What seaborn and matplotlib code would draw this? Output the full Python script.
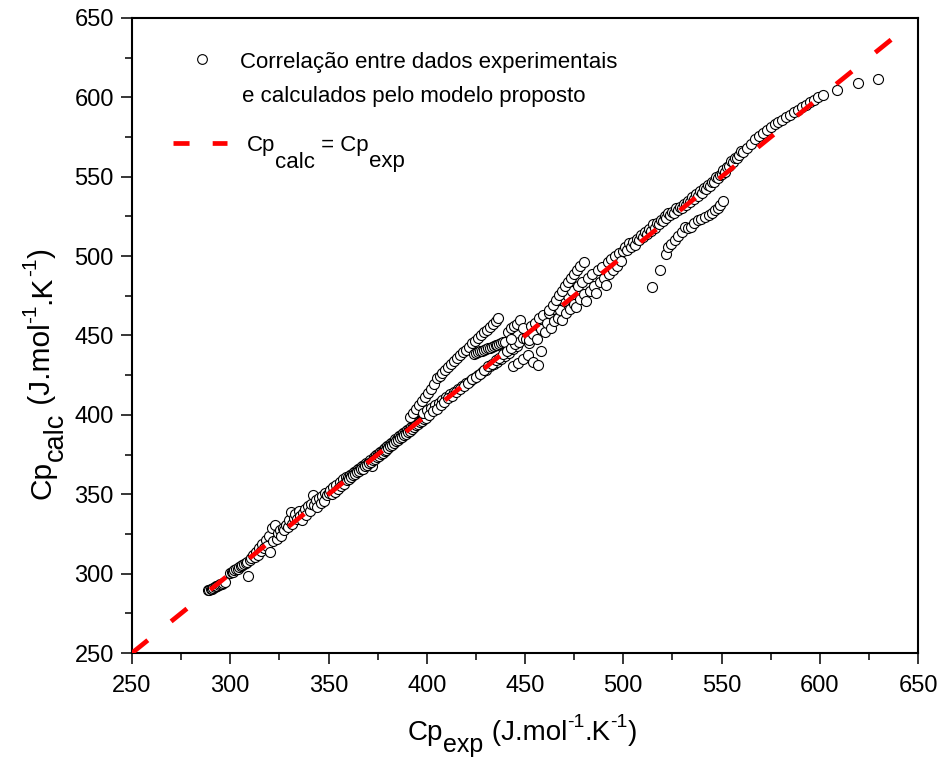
import numpy as np
import pandas as pd
import matplotlib
matplotlib.use("Agg")
import matplotlib.pyplot as plt
import seaborn as sns
from matplotlib.ticker import MultipleLocator
from matplotlib.transforms import IdentityTransform
from matplotlib.lines import Line2D

# ---------------- data ----------------
A_x = [288.6, 289.3, 290.0, 290.7, 291.4, 292.1, 292.8, 293.5, 294.2, 294.9, 295.6, 296.4, 297.2]
A_y = [289.4, 289.8, 290.2, 290.6, 291.0, 291.4, 291.9, 292.3, 292.8, 293.2, 293.7, 294.2, 294.8]

B_x = [300.0, 300.7, 301.4, 302.1, 302.9, 303.7, 304.5, 305.3, 306.1, 307.0, 307.9, 308.7, 309.2, 310.0,
       310.8, 311.6, 312.4, 313.2, 314.0, 314.8, 315.6, 316.4, 317.2, 318.0, 318.8, 319.6, 320.4, 321.2,
       322.0, 322.8, 323.6, 324.4, 325.2, 326.0, 326.8, 327.6, 328.4, 329.2]
B_y = [300.2, 300.8, 301.3, 302.0, 302.6, 303.2, 303.9, 304.6, 305.3, 306.0, 306.8, 307.4, 298.2, 308.5,
       309.8, 311.5, 310.2, 313.6, 312.0, 316.0, 314.2, 318.6, 316.0, 321.2, 317.5, 323.5, 313.5, 328.6,
       320.5, 330.4, 321.8, 325.5, 327.2, 323.8, 329.0, 327.5, 330.8, 329.5]

C_x = [330.0, 330.8, 331.6, 332.4, 333.2, 334.0, 334.8, 335.6, 336.4, 337.2, 338.0, 338.8, 339.6, 340.4,
       341.2, 342.0, 342.8, 343.6, 344.4, 345.2, 346.0, 346.8, 347.6, 348.4, 349.2, 350.0, 350.8, 351.6,
       352.4, 353.2, 354.0, 354.8, 355.6, 356.4, 357.2, 358.0, 358.8, 359.6]
C_y = [333.5, 338.8, 331.5, 335.0, 337.8, 334.2, 339.5, 336.0, 333.8, 338.5, 341.0, 337.0, 342.5, 339.5,
       344.0, 349.5, 343.0, 346.5, 341.8, 347.5, 344.5, 349.0, 346.0, 351.0, 349.5, 350.5, 352.5, 350.0,
       354.5, 351.5, 356.0, 353.5, 358.0, 355.0, 359.5, 356.5, 361.0, 359.0]

D_x = [360, 361, 362, 363, 364, 365, 366, 367, 368, 369, 370, 371, 372, 373, 374, 375, 376, 377, 378, 379,
       380, 381, 382, 383, 384, 385, 386, 387, 388, 389, 390, 391, 392, 393, 394, 395, 396, 397, 398, 399, 400]
D_y = [361.0, 362.2, 362.6, 364.0, 364.6, 365.8, 366.4, 367.9, 368.3, 369.6, 370.0, 371.6, 367.5, 373.2,
       374.5, 375.2, 376.6, 377.0, 378.4, 379.0, 380.3, 381.0, 382.4, 383.0, 384.5, 385.0, 386.4, 387.2,
       388.5, 389.0, 390.6, 391.2, 392.5, 393.0, 394.6, 395.2, 396.4, 397.0, 398.6, 399.0, 400.4]

D2_x = [360.5, 361.5, 362.5, 363.5, 364.5, 365.5, 366.5, 367.5, 368.5, 369.5, 370.5, 371.5, 372.5, 373.5,
        374.5, 375.5, 376.5, 377.5, 378.5, 379.5, 380.5, 381.5, 382.5, 383.5, 384.5, 385.5, 386.5, 387.5,
        388.5, 389.5, 390.5, 391.5, 392.5, 393.5, 394.5, 395.5, 396.5, 397.5, 398.5, 399.5]
D2_y = [359.8, 360.6, 361.9, 362.5, 363.8, 364.4, 365.7, 366.2, 367.5, 368.3, 369.4, 370.2, 371.5, 372.0,
        373.4, 374.2, 375.5, 376.1, 377.4, 378.0, 379.3, 380.2, 381.3, 382.0, 383.4, 384.1, 385.3, 386.0,
        387.3, 388.1, 389.4, 390.0, 391.2, 392.1, 393.4, 394.0, 395.2, 396.1, 397.3, 398.0]

E_x = [391.5, 393.0, 394.5, 396.0, 397.5, 399.0, 400.5, 402.0, 403.5, 405.0, 406.5, 408.0, 409.5, 411.0,
       412.5, 414.0, 415.5, 417.0, 418.5, 420.0, 421.5, 423.0, 424.5, 426.0, 427.5, 429.0, 430.5, 432.0,
       433.5, 435.0, 436.3]
E_y = [398.5, 401.0, 403.5, 406.0, 408.5, 411.0, 413.5, 416.5, 419.5, 423.0, 424.5, 426.5, 428.5, 430.0,
       432.0, 434.0, 436.0, 437.5, 439.5, 441.0, 443.0, 445.0, 446.5, 448.5, 450.0, 452.0, 453.5, 455.5,
       457.0, 459.0, 461.0]

F_x = [398.0, 400.0, 402.0, 404.0, 406.0, 408.0, 410.0, 412.0, 414.0, 416.0, 418.0, 420.0, 422.0, 424.0,
       426.0, 428.0, 430.0, 432.0, 434.0, 436.0, 438.0, 440.0, 442.0, 444.0, 446.0]
F_y = [401.0, 403.0, 404.5, 406.5, 407.5, 409.5, 411.0, 413.0, 414.5, 416.0, 418.0, 420.0, 421.5, 423.5,
       425.0, 427.0, 428.5, 430.5, 432.0, 433.5, 435.5, 437.0, 439.0, 441.5, 443.5]

G_x = [424.0, 425.0, 426.0, 427.0, 428.0, 429.0, 430.0, 431.0, 432.0, 433.0, 434.0, 435.0, 436.0, 437.0,
       438.0, 439.0, 440.0]
G_y = [438.6, 439.1, 439.6, 440.0, 440.5, 441.0, 441.4, 441.9, 442.4, 442.8, 443.3, 443.8, 444.2, 444.7,
       445.2, 445.6, 446.1]

H_x = [401.0, 403.0, 405.0, 407.0, 409.0, 411.0, 413.0, 415.0, 417.0, 419.0, 421.0, 423.0, 425.0, 427.0,
       429.0, 431.0, 433.0, 435.0, 437.0, 439.0, 441.0, 443.0, 445.0, 447.0, 449.0, 451.0]
H_y = [400.0, 402.5, 404.0, 406.5, 408.0, 410.5, 412.0, 414.5, 416.0, 418.5, 420.0, 422.5, 424.0, 426.0,
       428.0, 430.5, 432.0, 434.5, 436.0, 438.5, 440.0, 442.0, 444.5, 446.0, 448.5, 450.0]

I_x = [441.5, 443.0, 444.5, 446.0, 447.5, 449.0, 450.5, 452.0, 444.0, 446.5, 449.0, 451.5, 454.0, 456.5,
       458.0, 443.0]
I_y = [452.0, 454.5, 456.0, 457.5, 459.5, 455.0, 448.0, 445.0, 430.5, 432.5, 435.0, 437.5, 433.5, 431.5,
       440.0, 447.5]

J_x = [452, 453, 454, 455, 456, 457, 458, 459, 460, 461, 462, 463, 464, 465, 466, 467, 468, 469, 470, 471,
       472, 473, 474, 475, 476, 477, 478, 479, 480, 481, 482, 483, 484, 485, 486, 487, 488, 489, 490, 491,
       492, 493, 494, 495, 496, 497, 498, 499]
J_y = [447, 456, 451, 458, 448, 461, 454, 463, 452, 458, 464, 455, 467, 459, 470, 461, 466, 460, 472, 464,
       475, 467, 478, 470, 468, 481, 473, 484, 476, 472, 486, 478, 489, 481, 477, 491, 484, 493, 486, 482,
       496, 489, 498, 491, 500, 494, 502, 497]

K_x = [462.0, 464.0, 466.0, 467.5, 469.0, 470.5, 472.0, 473.5, 475.0, 476.5, 478.0, 480.0]
K_y = [466.0, 469.5, 472.5, 475.5, 478.0, 481.0, 483.5, 486.0, 488.5, 491.0, 493.5, 496.5]

L_x = [500, 501, 502, 503, 504, 505, 506, 507, 508, 509, 510, 511, 512, 513, 514, 515, 516, 517, 518, 519,
       520, 521, 522, 523, 524, 525, 526, 527, 528, 529, 530, 531, 532, 533, 534, 535, 536, 537, 538, 539,
       540, 541, 542, 543, 544, 545, 546, 547, 548, 549, 550, 551, 552, 553, 554, 555, 556, 557, 558, 559, 560]
L_y = [503, 506, 504, 508, 506, 509, 507, 511, 510, 513, 512, 515, 514, 517, 516, 520, 518, 521, 520, 523,
       522, 525, 524, 527, 526, 528, 527, 530, 529, 531, 530, 533, 532, 535, 534, 537, 536, 539, 538, 541,
       540, 543, 542, 545, 544, 547, 547, 550, 549, 551, 552, 554, 553, 556, 557, 560, 559, 562, 562, 564, 566]

M_x = [561.0, 563.0, 565.0, 567.0, 569.0, 571.0, 573.0, 575.0, 577.0, 579.0, 581.0, 583.0, 585.0, 587.0,
       589.0, 591.0, 593.0, 595.0, 597.0, 599.0, 601.7]
M_y = [565.5, 568.0, 570.5, 573.5, 575.5, 577.5, 579.5, 581.5, 583.5, 584.5, 585.5, 587.5, 589.0, 590.5,
       592.0, 594.0, 595.5, 597.0, 598.5, 600.0, 601.5]

N_x = [608.8, 619.5, 629.6]
N_y = [604.5, 609.3, 611.6]

O_x = [514.6, 518.7, 522.0, 523.0, 524.5, 526.3, 528.0, 529.8, 531.4, 533.0, 534.6, 536.2, 537.8, 539.6,
       541.6, 543.4, 545.0, 546.6, 548.0, 549.4, 550.8]
O_y = [480.5, 491.3, 501.5, 505.5, 507.5, 510.0, 512.5, 515.5, 518.5, 517.5, 518.5, 521.0, 522.8, 523.5,
       524.6, 526.0, 527.2, 528.8, 530.5, 532.5, 534.5]

line_x = [250, 638]
line_y = [250, 638]

x_ticks = [250, 300, 350, 400, 450, 500, 550, 600, 650]
y_ticks = [250, 300, 350, 400, 450, 500, 550, 600, 650]

legend_text_1 = "Correlação entre dados experimentais"
legend_text_2 = "e calculados pelo modelo proposto"

# ---------------- figure ----------------
sns.set_theme(style="ticks")
plt.rcParams["font.family"] = ["Liberation Sans", "DejaVu Sans"]

series_x = [A_x, B_x, C_x, D_x, D2_x, E_x, F_x, G_x, H_x, I_x, J_x, K_x, L_x, M_x, N_x, O_x]
series_y = [A_y, B_y, C_y, D_y, D2_y, E_y, F_y, G_y, H_y, I_y, J_y, K_y, L_y, M_y, N_y, O_y]
df = pd.DataFrame({
    "exp": np.concatenate([np.asarray(s, float) for s in series_x]),
    "calc": np.concatenate([np.asarray(s, float) for s in series_y]),
})

W, H = 938, 758
fig = plt.figure(figsize=(W / 100, H / 100), dpi=100)
ax = fig.add_axes([132 / W, 1 - 653 / H, (918 - 132) / W, (653 - 18) / H])

sns.scatterplot(data=df, x="exp", y="calc", marker="o", s=52, color="white",
                edgecolor="black", linewidth=0.8, ax=ax, legend=False, zorder=2)
sns.lineplot(x=line_x, y=line_y, color="red", ax=ax, zorder=3)
ln = ax.lines[-1]
ln.set_linewidth(3.4)
ln.set_linestyle((0, (4.3, 6.35)))
ln.set_solid_capstyle("butt")

ax.set_xlim(250, 650)
ax.set_ylim(250, 650)
ax.set_xticks(x_ticks)
ax.set_yticks(y_ticks)
ax.xaxis.set_minor_locator(MultipleLocator(25))
ax.yaxis.set_minor_locator(MultipleLocator(25))
ax.set_xlabel("")
ax.set_ylabel("")
ax.tick_params(which="major", direction="out", length=8, width=1.1, colors="black", labelsize=17)
ax.tick_params(which="minor", direction="out", length=5, width=1.1, colors="black")
ax.tick_params(axis="x", which="major", pad=8)
ax.tick_params(axis="y", which="major", pad=5)
for sp in ax.spines.values():
    sp.set_linewidth(1.5)
    sp.set_color("black")

# ---------------- rich text helper ----------------
renderer = fig.canvas.get_renderer()
IT = IdentityTransform()


def text_width(s, size):
    t1 = fig.text(0, 0, "|" + s + "|", fontsize=size, transform=IT)
    t2 = fig.text(0, 0, "||", fontsize=size, transform=IT)
    w = t1.get_window_extent(renderer).width - t2.get_window_extent(renderer).width
    t1.remove()
    t2.remove()
    return w


def rich(x_img, y_img, parts, rot=0):
    """parts: (string, size, shift_px); shift>0 lowers (subscript)."""
    x0, y0 = x_img, H - y_img
    pos = 0.0
    for s, size, shift in parts:
        if rot == 0:
            fig.text(x0 + pos, y0 - shift, s, fontsize=size, transform=IT,
                     ha="left", va="baseline", color="black")
        else:
            fig.text(x0 + shift, y0 + pos, s, fontsize=size, transform=IT, rotation=90,
                     rotation_mode="anchor", ha="left", va="baseline", color="black")
        pos += text_width(s, size)


xparts = [("Cp", 20, 0), ("exp", 18, 12), (" (J.mol", 20, 0), ("-1", 14, -13),
          (".K", 20, 0), ("-1", 14, -13), (")", 20, 0)]
yparts = [("Cp", 21.5, 0), ("calc", 19.5, 13), (" (J.mol", 21.5, 0), ("-1", 15, -14),
          (".K", 21.5, 0), ("-1", 15, -14), (")", 21.5, 0)]
rich(408, 740, xparts)
rich(50, 499, yparts, rot=90)

# ---------------- legend (drawn by hand) ----------------
fig.add_artist(Line2D([202], [H - 59], marker="o", markersize=7.0, markerfacecolor="white",
                      markeredgecolor="black", markeredgewidth=0.8, linestyle="none", transform=IT))
fig.text(240, H - 68, legend_text_1, fontsize=16, transform=IT, ha="left", va="baseline", color="black")
fig.text(242, H - 102, legend_text_2, fontsize=16, transform=IT, ha="left", va="baseline", color="black")
fig.add_artist(Line2D([173, 227], [H - 143, H - 143], color="red", linewidth=3.4,
                      linestyle=(0, (3.4, 4.9)), transform=IT))
rich(246.5, 151.5, [("Cp", 16, 0), ("calc", 16, 16), (" = Cp", 16, 0), ("exp", 16, 16)])

fig.savefig("out.png", dpi=100)
